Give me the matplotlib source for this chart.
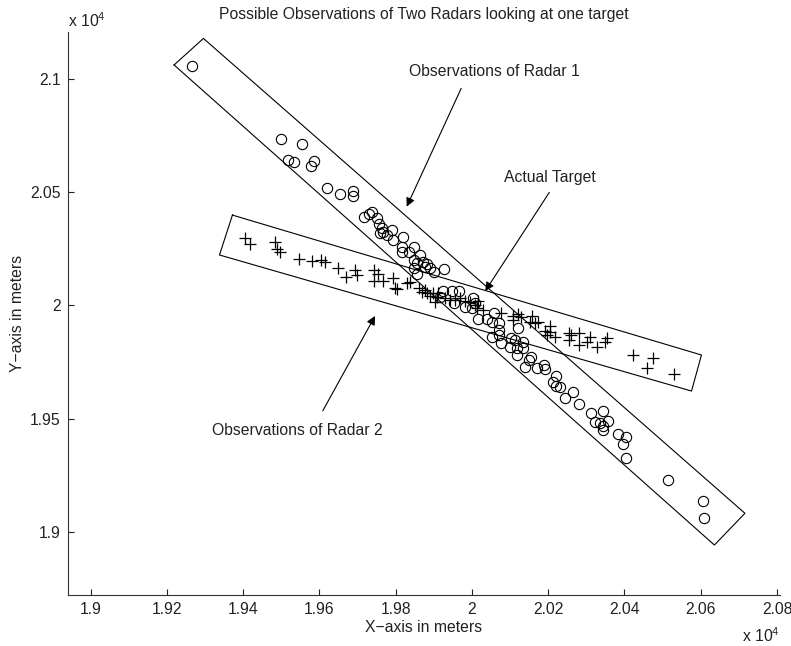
import matplotlib
matplotlib.use("Agg")
import matplotlib.pyplot as plt

plt.rcParams['font.family'] = ['Liberation Sans', 'DejaVu Sans']
plt.rcParams['mathtext.fontset'] = 'custom'
plt.rcParams['mathtext.rm'] = 'Liberation Sans'
plt.rcParams['mathtext.it'] = 'Liberation Sans'

# Radar 1 observations (circles)
r1_x = [19267, 19500, 19555, 19519, 19534, 19585, 19578, 19619, 19655, 19689,
        19689, 19717, 19729, 19739, 19751, 19757, 19764, 19759, 19767, 19777,
        19790, 19794, 19820, 19816, 19816, 19834, 19848, 19864, 19849, 19857,
        19873, 19883, 19877, 19889, 19849, 19856, 19901, 19927, 19925, 19948,
        19965, 19917, 19952, 19982, 20004, 20009, 20000, 20017, 20039, 20057,
        20052, 20070, 20071, 20070, 20120, 20052, 20102, 20076, 20114, 20134,
        20101, 20118, 20135, 20118, 20156, 20149, 20140, 20171, 20188, 20192,
        20221, 20213, 20220, 20232, 20266, 20245, 20282, 20312, 20345, 20324,
        20335, 20356, 20345, 20345, 20384, 20404, 20395, 20404, 20513, 20605,
        20608]
r1_y = [21055, 20732, 20711, 20641, 20633, 20636, 20614, 20519, 20491, 20503,
        20482, 20391, 20401, 20410, 20384, 20358, 20339, 20317, 20325, 20310,
        20332, 20288, 20301, 20258, 20236, 20235, 20257, 20222, 20200, 20185,
        20192, 20182, 20170, 20163, 20163, 20138, 20148, 20159, 20065, 20065,
        20065, 20038, 20009, 19991, 20031, 20009, 19988, 19938, 19938, 19966,
        19928, 19923, 19891, 19869, 19899, 19862, 19856, 19835, 19847, 19840,
        19817, 19810, 19810, 19781, 19772, 19759, 19729, 19724, 19737, 19719,
        19688, 19663, 19646, 19641, 19618, 19591, 19565, 19524, 19534, 19487,
        19482, 19491, 19466, 19450, 19433, 19418, 19388, 19325, 19230, 19135,
        19061]

# Radar 2 observations (pluses)
r2_x = [19406, 19419, 19483, 19490, 19496, 19546, 19581, 19603, 19614, 19650,
        19671, 19694, 19699, 19742, 19755, 19742, 19766, 19793, 19798, 19803,
        19829, 19838, 19860, 19869, 19877, 19883, 19891, 19899, 19908, 19912,
        19904, 19930, 19943, 19956, 19969, 19982, 19996, 20009, 20017, 20013,
        20030, 20077, 20109, 20122, 20129, 20109, 20157, 20153, 20166, 20174,
        20206, 20192, 20197, 20206, 20219, 20254, 20259, 20280, 20254, 20280,
        20311, 20303, 20328, 20354, 20350, 20422, 20476, 20458, 20530]
r2_y = [20297, 20270, 20279, 20248, 20234, 20206, 20197, 20200, 20190, 20163,
        20123, 20154, 20134, 20157, 20140, 20109, 20108, 20120, 20078, 20071,
        20097, 20104, 20078, 20060, 20067, 20053, 20041, 20053, 20037, 20053,
        20016, 20031, 20023, 20023, 20031, 20019, 20016, 20001, 20021, 19987,
        19979, 19965, 19953, 19964, 19950, 19935, 19953, 19928, 19924, 19928,
        19911, 19889, 19867, 19884, 19862, 19878, 19867, 19878, 19847, 19825,
        19862, 19840, 19816, 19855, 19837, 19780, 19766, 19722, 19697]

# Bounding boxes of possible observations
box1_x = [19219, 19296, 20716, 20636, 19219]
box1_y = [21060, 21177, 19083, 18943, 21060]
box2_x = [19372, 20602, 20576, 19338, 19372]
box2_y = [20398, 19781, 19622, 20222, 20398]

xticks = [19000, 19200, 19400, 19600, 19800, 20000, 20200, 20400, 20600, 20800]
xticklabels = ['1.9', '1.92', '1.94', '1.96', '1.98', '2', '2.02', '2.04', '2.06', '2.08']
yticks = [19000, 19500, 20000, 20500, 21000]
yticklabels = ['1.9', '1.95', '2', '2.05', '2.1']

tc = '#222222'
fs = 11.3
fig = plt.figure(figsize=(7.91, 6.46), dpi=100)
ax = fig.add_axes([67.7/791, 1-594.7/646, (780-67.7)/791, (594.7-32.3)/646])

ax.plot(box1_x, box1_y, color='k', lw=0.8)
ax.plot(box2_x, box2_y, color='k', lw=0.8)
ax.plot(r1_x, r1_y, linestyle='none', marker='o', markersize=7.4,
        mfc='none', mec='k', mew=0.8)
ax.plot(r2_x, r2_y, linestyle='none', marker='+', markersize=8,
        color='k', mew=0.9)

ax.set_xlim(18940, 20808)
ax.set_ylim(18724, 21204)
ax.set_xticks(xticks)
ax.set_xticklabels(xticklabels)
ax.set_yticks(yticks)
ax.set_yticklabels(yticklabels)
ax.tick_params(direction='in', length=4.5, width=0.8, labelsize=fs,
               colors=tc, pad=5)
for s in ['top', 'right']:
    ax.spines[s].set_visible(False)
for s in ['left', 'bottom']:
    ax.spines[s].set_linewidth(0.8)
    ax.spines[s].set_color('#333333')

arr = dict(arrowstyle='-|>', color='k', lw=0.8, mutation_scale=13,
           shrinkA=0, shrinkB=0)
ax.annotate('', xy=(19829, 20435), xytext=(19972, 20957), arrowprops=arr)
ax.annotate('', xy=(20035, 20063), xytext=(20203, 20498), arrowprops=arr)
ax.annotate('', xy=(19746, 19953), xytext=(19609, 19535), arrowprops=arr)
ax.text(20059, 21030, 'Observations of Radar 1', ha='center', va='center',
        fontsize=fs, color=tc)
ax.text(20205, 20563, 'Actual Target', ha='center', va='center',
        fontsize=fs, color=tc)
ax.text(19542, 19450, 'Observations of Radar 2', ha='center', va='center',
        fontsize=fs, color=tc)

fig.text(424/791, 1-14/646, 'Possible Observations of Two Radars looking at one target',
         ha='center', va='center', fontsize=fs, color=tc)
fig.text(424/791, 1-628/646, 'X\u2212axis in meters', ha='center', va='center',
         fontsize=fs, color=tc)
fig.text(18/791, 1-313/646, 'Y\u2212axis in meters', ha='center', va='center',
         rotation=90, fontsize=fs, color=tc)
fig.text(68/791, 1-21/646, 'x 10$^{4}$', ha='left', va='center',
         fontsize=fs, color=tc)
fig.text(780/791, 1-636/646, 'x 10$^{4}$', ha='right', va='center',
         fontsize=fs, color=tc)

fig.savefig('out.png', dpi=100)
